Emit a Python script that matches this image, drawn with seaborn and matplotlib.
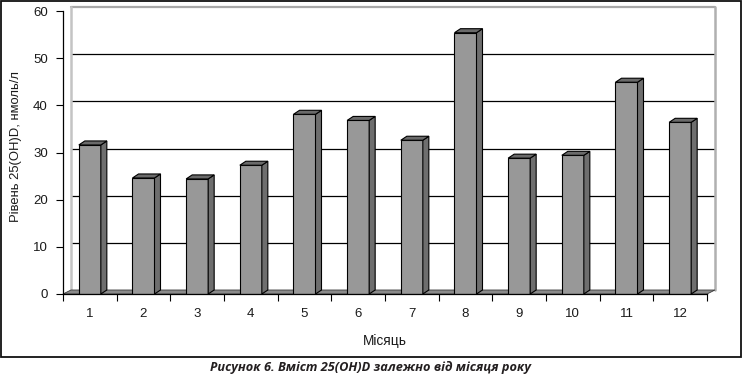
import matplotlib
matplotlib.use('Agg')
import matplotlib.pyplot as plt
import seaborn as sns
import pandas as pd
import numpy as np
from matplotlib.patches import Polygon, Rectangle
from matplotlib.lines import Line2D
from matplotlib.transforms import IdentityTransform

# ---- data ----
months = ['1', '2', '3', '4', '5', '6', '7', '8', '9', '10', '11', '12']
values = [31.6, 24.6, 24.4, 27.3, 38.1, 36.8, 32.6, 55.4, 28.8, 29.4, 44.9, 36.4]
y_ticks = [0, 10, 20, 30, 40, 50, 60]
x_label = 'Місяць'
y_label = 'Рівень 25(OH)D, нмоль/л'
caption = 'Рисунок 6. Вміст 25(OH)D залежно від місяця року'

sns.set_theme(style='white')
plt.rcParams['font.family'] = ['Liberation Sans', 'DejaVu Sans']

W, H = 742, 380
fig = plt.figure(figsize=(W / 100, H / 100), dpi=100)
ax = fig.add_axes([63 / W, (H - 294) / H, (707 - 63) / W, (294 - 11) / H])

df = pd.DataFrame({'month': months, 'value': values})
sns.barplot(data=df, x='month', y='value', color='#989898', saturation=1,
            width=0.41, edgecolor='black', linewidth=0.8, ax=ax, zorder=4)

ax.set_xlim(-0.5, len(months) - 0.5)
ax.set_ylim(0, 60)
ax.set_yticks(y_ticks)
ax.set_yticklabels([str(t) for t in y_ticks])

# spines / ticks
for s in ['top', 'right']:
    ax.spines[s].set_visible(False)
for s in ['left', 'bottom']:
    ax.spines[s].set_color('black')
    ax.spines[s].set_linewidth(0.9)
    ax.spines[s].set_zorder(5)
ax.tick_params(axis='y', direction='out', length=5, width=0.8, color='black',
               pad=6, labelsize=9.5, labelcolor='#1a1a1a', left=True)
ax.tick_params(axis='x', which='major', length=0, pad=10, labelsize=9.5,
               labelcolor='#1a1a1a', bottom=True)
ax.set_xticks(np.arange(-0.5, len(months), 1.0), minor=True)
ax.tick_params(axis='x', which='minor', direction='out', length=5, width=0.8,
               color='black', bottom=True)
ax.grid(False)

ax.set_xlabel(x_label, fontsize=9.8, color='#1a1a1a')
ax.set_ylabel(y_label, fontsize=9.4, color='#1a1a1a')
ax.xaxis.set_label_coords(0.5, (294 - 334) / 283)
ax.yaxis.set_label_coords((22 - 63) / 644, (294 - 147) / 283)

ident = IdentityTransform()


def disp(x, y):
    return np.array(ax.transData.transform((x, y)))


wall = np.array([8.0, 4.0])
depth = np.array([6.0, 4.0])
x_lo, x_hi = ax.get_xlim()

# floor
f0, f1 = disp(x_lo, 0), disp(x_hi, 0)
ax.add_patch(Polygon([f0, f1, f1 + wall, f0 + wall], closed=True, transform=ident,
                     facecolor='#8a8a8a', edgecolor='#3a3a3a', linewidth=0.6,
                     zorder=2, clip_on=False))

# back wall gridlines
for yv in y_ticks[1:]:
    p0, p1 = disp(x_lo, yv) + wall, disp(x_hi, yv) + wall
    if yv == y_ticks[-1]:
        col, lw = '#a8a8a8', 1.6
    else:
        col, lw = 'black', 0.9
    ax.add_line(Line2D([p0[0], p1[0]], [p0[1], p1[1]], transform=ident,
                       color=col, linewidth=lw, zorder=1, clip_on=False))
# wall edges
for xv, col in [(x_lo, '#c4c4c4'), (x_hi, '#b0b0b0')]:
    p0, p1 = disp(xv, 0) + wall, disp(xv, y_ticks[-1]) + wall
    ax.add_line(Line2D([p0[0], p1[0]], [p0[1], p1[1]], transform=ident,
                       color=col, linewidth=1.8, zorder=1, clip_on=False))

# 3D sides and tops of bars
for patch in list(ax.patches):
    if not isinstance(patch, Rectangle):
        continue
    x0, w, h = patch.get_x(), patch.get_width(), patch.get_height()
    if w <= 0 or h <= 0:
        continue
    br, tr, tl = disp(x0 + w, 0), disp(x0 + w, h), disp(x0, h)
    ax.add_patch(Polygon([br, tr, tr + depth, br + depth], closed=True,
                         transform=ident, facecolor='#6e6e6e', edgecolor='black',
                         linewidth=0.8, zorder=4, clip_on=False))
    ax.add_patch(Polygon([tl, tr, tr + depth, tl + depth], closed=True,
                         transform=ident, facecolor='#6a6a6a', edgecolor='black',
                         linewidth=0.8, zorder=4, clip_on=False))

# outer chart frame
fig.patches.append(Rectangle((0.6 / W, (H - 356.5) / H), 740.5 / W, 356 / H,
                             transform=fig.transFigure, fill=False,
                             edgecolor='#111111', linewidth=1.3))

fig.text(0.5, (H - 368) / H, caption, ha='center', va='center', fontsize=9.2,
         fontweight='bold', fontstyle='italic', color='#231f20',
         family=['Liberation Sans Narrow', 'Open Sans', 'DejaVu Sans'])

fig.savefig('out.png', dpi=100)
